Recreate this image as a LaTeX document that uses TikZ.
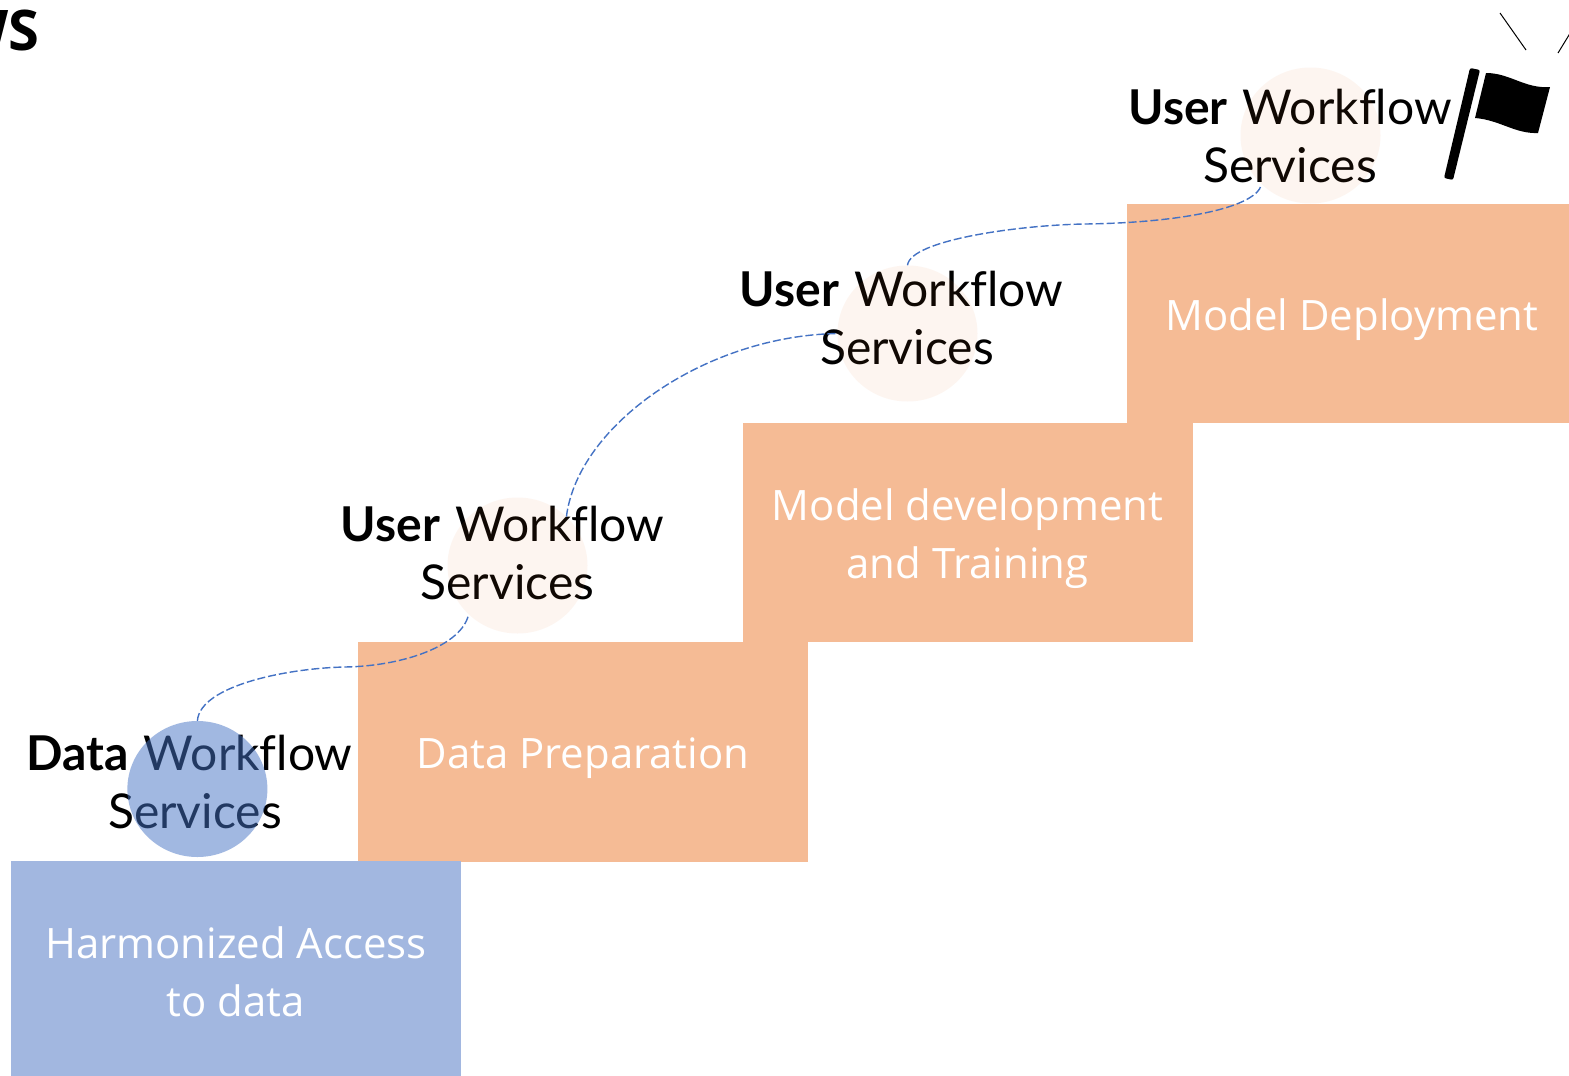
\documentclass[tikz,border=0pt]{standalone}
\usepackage{fontspec}
\setmainfont[Ligatures=NoCommon]{Lato}
\newfontfamily\boxfont{Open Sans}
\newfontfamily\titlefont{Open Sans}
\usetikzlibrary{shapes.geometric}
\definecolor{peach}{HTML}{F5BB95}
\definecolor{softblue}{HTML}{A2B7E0}
\definecolor{linkblue}{HTML}{4472C4}
\definecolor{tint}{HTML}{ED7D31}
\newcommand{\wgap}{\hspace{3pt} }
\tikzset{
  x=1pt,y=-1pt,
  stepbox/.style={fill=#1,draw=none,text=white,align=center,font=\fontsize{41.9}{58}\selectfont\boxfont,inner sep=0pt},
  wflabel/.style={align=center,text=black,font=\fontsize{48}{58}\selectfont,inner sep=0pt},
  wfdot/.style={ellipse,minimum width=140pt,minimum height=136pt,inner sep=0pt,draw=none},
  datadot/.style={wfdot,fill=linkblue,fill opacity=.5},
  userdot/.style={wfdot,fill=tint,fill opacity=.07},
  linkline/.style={draw=linkblue,line width=1.4pt,dash pattern=on 8pt off 3pt},
}
\begin{document}
\begin{tikzpicture}
\useasboundingbox (0,0) rectangle (1569,1076);
\clip (0,0) rectangle (1569,1076);
\fill[white] (0,0) rectangle (1569,1076);
\node[anchor=base west,inner sep=0pt,font=\fontsize{56}{56}\selectfont\titlefont\bfseries] (title) at (-46,50) {WS};
\node[stepbox=peach,minimum width=443pt,minimum height=218.5pt] (deploy) at (1348.5,313.5) {};
\node[stepbox=peach,minimum width=449.5pt,minimum height=218.5pt] (dev) at (968,532.5) {};
\node[stepbox=peach,minimum width=449.5pt,minimum height=220pt] (prep) at (583,751.5) {};
\node[stepbox=softblue,minimum width=450pt,minimum height=215pt] (access) at (236,968.5) {};
\node[stepbox=peach,fill=none] (deployt) at (1352,320) {Model Deployment};
\node[stepbox=peach,fill=none] (devt) at (967.5,539) {Model development\\and Training};
\node[stepbox=peach,fill=none] (prept) at (583,758) {Data Preparation};
\node[stepbox=softblue,fill=none] (accesst) at (236,972) {Harmonized Access\\to data};
\node[wflabel] (l1) at (195,782) {\textbf{Data}\wgap Workflow\hspace*{11pt}\\Services};
\node[wflabel] (l2) at (507.5,553) {\textbf{User}\wgap Workflow\hspace*{10pt}\\Services};
\node[wflabel] (l3) at (907,318) {\textbf{User}\wgap Workflow\hspace*{11pt}\\Services};
\node[wflabel] (l4) at (1290,136) {\textbf{User}\wgap Workflow\\Services};
\node[datadot] (c1) at (197.4,789) {};
\node[userdot] (c2) at (517.5,565.5) {};
\node[userdot] (c3) at (907.5,333.5) {};
\node[userdot] (c4) at (1310.5,135.5) {};
\draw[linkline] (c1.north) .. controls (200,685) and (290,668) .. (345,667) .. controls (405,666) and (462,645) .. (c2.225);
\draw[linkline] (c2.45) .. controls (578,425) and (705,336) .. (c3.west);
\draw[linkline] (c3.north) .. controls (910,240) and (1020,225) .. (1085,224) .. controls (1170,223) and (1255,210) .. (c4.225);
\fill[black,rounded corners=2pt] (1470,68) -- (1480,70) -- (1453,180) -- (1444,178) -- cycle;
\fill[black] (1486,73) .. controls (1510,73) and (1525,89) .. (1550,87) -- (1538,133) .. controls (1515,134) and (1500,120) .. (1475,118) -- cycle;
\coordinate (ray1a) at (1500,13); \coordinate (ray1b) at (1526,50);
\coordinate (ray2a) at (1558,53); \coordinate (ray2b) at (1580,17);
\draw[black,line width=1pt] (ray1a) -- (ray1b);
\draw[black,line width=1pt] (ray2a) -- (ray2b);
\end{tikzpicture}
\end{document}
